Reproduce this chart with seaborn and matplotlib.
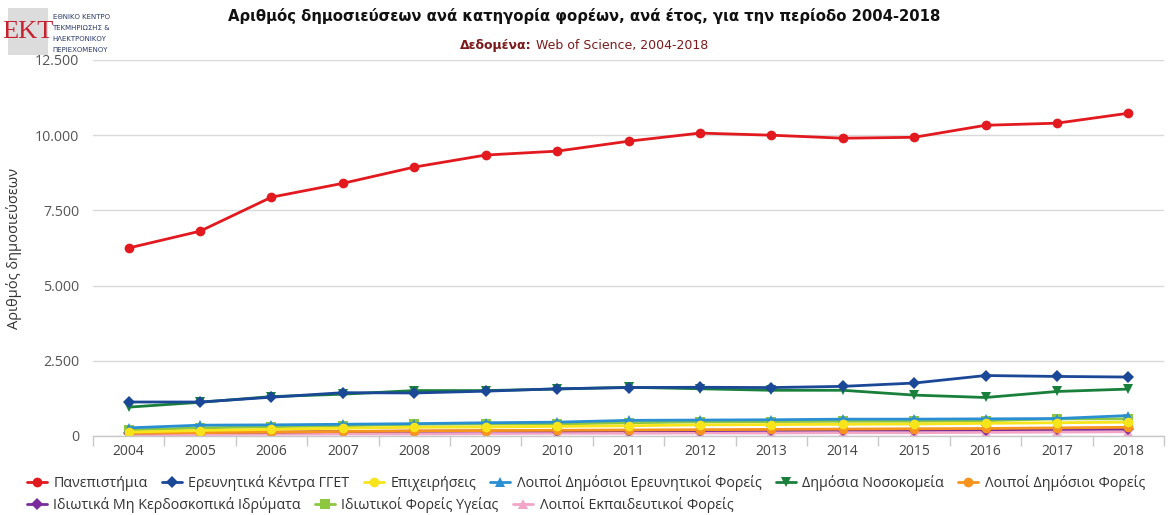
import numpy as np
import pandas as pd
import matplotlib
matplotlib.use('Agg')
import matplotlib.pyplot as plt
import seaborn as sns
from matplotlib.lines import Line2D
from matplotlib.patches import Rectangle
from matplotlib.ticker import FuncFormatter, FixedLocator

years = list(range(2004, 2019))

series_names = [
    'Πανεπιστήμια',
    'Ερευνητικά Κέντρα ΓΓΕΤ',
    'Επιχειρήσεις',
    'Λοιποί Δημόσιοι Ερευνητικοί Φορείς',
    'Δημόσια Νοσοκομεία',
    'Λοιποί Δημόσιοι Φορείς',
    'Ιδιωτικά Μη Κερδοσκοπικά Ιδρύματα',
    'Ιδιωτικοί Φορείς Υγείας',
    'Λοιποί Εκπαιδευτικοί Φορείς',
]

universities = [6250, 6810, 7940, 8400, 8940, 9340, 9470, 9800, 10070, 10000, 9900, 9930, 10330, 10400, 10730]
gget_centres = [1130, 1130, 1290, 1440, 1430, 1490, 1570, 1610, 1620, 1610, 1650, 1760, 2010, 1980, 1960]
companies = [130, 180, 220, 260, 290, 300, 320, 340, 370, 380, 390, 400, 420, 440, 460]
other_public_research = [270, 360, 370, 390, 410, 440, 460, 520, 530, 540, 560, 560, 570, 580, 680]
public_hospitals = [960, 1120, 1310, 1390, 1510, 1510, 1560, 1620, 1570, 1520, 1520, 1360, 1280, 1480, 1560]
other_public = [90, 110, 130, 150, 170, 180, 190, 200, 210, 220, 230, 240, 250, 270, 290]
private_nonprofit = [100, 120, 130, 150, 160, 170, 170, 180, 180, 190, 200, 200, 210, 220, 230]
private_health = [200, 270, 310, 340, 390, 400, 400, 440, 470, 480, 490, 490, 510, 570, 570]
other_education = [40, 50, 60, 70, 70, 80, 90, 90, 100, 100, 110, 110, 120, 130, 140]

all_values = [universities, gget_centres, companies, other_public_research, public_hospitals,
              other_public, private_nonprofit, private_health, other_education]

colors = ['#e2191e', '#1b4797', '#f7e41a', '#2a8fd2', '#18803b',
          '#f7941d', '#7a2a9b', '#8dc63f', '#f3a5c8']
markers = ['o', 'D', 'o', '^', 'v', 'o', 'D', 's', '^']
msizes = [7, 6, 7, 7, 7, 7, 6, 7, 7]

rows = []
for name, vals in zip(series_names, all_values):
    for i, v in enumerate(vals):
        rows.append({'idx': i, 'value': v, 'series': name})
df = pd.DataFrame(rows)

sns.set_theme(style='white')
plt.rcParams['font.family'] = ['Open Sans', 'DejaVu Sans']

fig = plt.figure(figsize=(11.68, 5.15), dpi=100)
ax = fig.add_axes([0.0796, 0.1534, 0.917, 0.7301])

# draw from the back so the university line ends up on top like the original
for name, col, mk, ms in list(zip(series_names, colors, markers, msizes))[::-1]:
    sub = df[df['series'] == name]
    sns.lineplot(data=sub, x='idx', y='value', color=col, marker=mk, markersize=ms,
                 markeredgewidth=0, linewidth=2, ax=ax, legend=False)

ax.set_xlim(-0.5, 14.5)
ax.set_ylim(0, 12500)
ax.set_yticks([0, 2500, 5000, 7500, 10000, 12500])
ax.yaxis.set_major_formatter(FuncFormatter(lambda v, p: f'{int(v):,}'.replace(',', '.')))
ax.grid(axis='y', color='#d9d9d9', linewidth=1)
ax.set_axisbelow(True)

ax.set_xticks(range(len(years)))
ax.set_xticklabels([str(y) for y in years])
ax.xaxis.set_minor_locator(FixedLocator(np.arange(-0.5, 15, 1)))
ax.tick_params(axis='x', which='major', length=0, pad=6, labelsize=10, labelcolor='#444444')
ax.tick_params(axis='x', which='minor', length=7, width=1, color='#c8c8c8', bottom=True)
ax.tick_params(axis='y', length=0, pad=10, labelsize=10.3, labelcolor='#555555')

for s in ['top', 'right', 'left']:
    ax.spines[s].set_visible(False)
ax.spines['bottom'].set_color('#c8c8c8')
ax.spines['bottom'].set_linewidth(1)

ax.set_xlabel('')
ax.set_ylabel('Αριθμός δημοσιεύσεων', fontsize=10.5, color='#333333')
ax.yaxis.set_label_coords(-0.066, 0.5)

# title and subtitle
fig.text(0.50, 0.968, 'Αριθμός δημοσιεύσεων ανά κατηγορία φορέων, ανά έτος, για την περίοδο 2004-2018',
         ha='center', va='center', fontsize=10.7, fontweight='bold', color='#111111', family='DejaVu Sans')
t1 = fig.text(0.394, 0.912, 'Δεδομένα:', ha='left', va='center', fontsize=9,
              fontweight='bold', color='#7a1a1a', family='DejaVu Sans')
fig.canvas.draw()
bb = t1.get_window_extent()
fig.text((bb.x1 + 4) / fig.bbox.width, 0.912, 'Web of Science, 2004-2018', ha='left', va='center',
         fontsize=9, color='#7a1a1a', family='DejaVu Sans')

# logo
fig.patches.append(Rectangle((0.007, 0.893), 0.034, 0.091, transform=fig.transFigure,
                             facecolor='#dcdcdc', edgecolor='none'))
fig.text(0.024, 0.938, 'EKT', ha='center', va='center', fontsize=19, color='#c8202f',
         family='Liberation Serif')
for k, line in enumerate(['ΕΘΝΙΚΟ ΚΕΝΤΡΟ', 'ΤΕΚΜΗΡΙΩΣΗΣ &', 'ΗΛΕΚΤΡΟΝΙΚΟΥ', 'ΠΕΡΙΕΧΟΜΕΝΟΥ']):
    fig.text(0.045, 0.967 - k * 0.0214, line, ha='left', va='center', fontsize=5,
             color='#2a3a6a', family='DejaVu Sans')

# legends (two rows, flowing like the original)
handles = [Line2D([], [], color=c, marker=m, markersize=ms, markeredgewidth=0, linewidth=2)
           for c, m, ms in zip(colors, markers, msizes)]
leg_kw = dict(frameon=False, fontsize=10.3, handlelength=1.4, handletextpad=0.45,
              columnspacing=1.0, borderaxespad=0, labelcolor='#333333')
leg1 = fig.legend(handles[:6], series_names[:6], ncol=6, loc='center left',
                  bbox_to_anchor=(0.018, 0.062), **leg_kw)
leg2 = fig.legend(handles[6:], series_names[6:], ncol=3, loc='center left',
                  bbox_to_anchor=(0.018, 0.020), **leg_kw)

fig.savefig('out.png', dpi=100)
